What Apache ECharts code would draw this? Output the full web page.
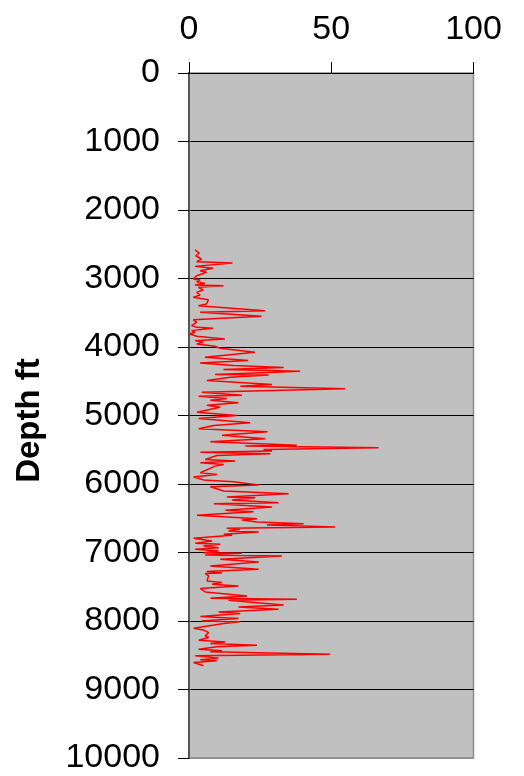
<!DOCTYPE html>
<html>
<head>
<meta charset="utf-8">
<script src="https://cdn.jsdelivr.net/npm/echarts@6/dist/echarts.min.js"></script>
<style>
  html, body { margin: 0; padding: 0; background: #ffffff; }
  #chart { width: 524px; height: 776px; }
</style>
</head>
<body>
<div id="chart"></div>
<script>
// Log readings: depth (ft) and measured value at that depth
const depths = [
  2580, 2629, 2668, 2716, 2755, 2774, 2823, 2852, 2886, 2910,
  2959, 3008, 3022, 3047, 3071, 3095, 3105, 3129, 3168, 3202,
  3241, 3275, 3290, 3309, 3372, 3397, 3470, 3494, 3552, 3601,
  3640, 3688, 3713, 3727, 3761, 3785, 3810, 3844, 3883, 3907,
  3931, 3956, 3990, 4020, 4077, 4150, 4198, 4232, 4271, 4300,
  4330, 4354, 4400, 4410, 4440, 4490, 4548, 4572, 4611, 4660,
  4704, 4718, 4752, 4777, 4815, 4849, 4878, 4951, 4999, 5044,
  5107, 5146, 5194, 5238, 5287, 5340, 5384, 5433, 5447, 5471,
  5496, 5520, 5535, 5559, 5583, 5642, 5666, 5690, 5715, 5739,
  5836, 5860, 5899, 5940, 5967, 6016, 6040, 6103, 6142, 6190,
  6200, 6234, 6273, 6288, 6336, 6385, 6404, 6458, 6492, 6506,
  6526, 6555, 6579, 6599, 6628, 6647, 6662, 6686, 6701, 6735,
  6749, 6793, 6832, 6866, 6880, 6905, 6929, 6953, 6978, 7002,
  7012, 7036, 7050, 7099, 7138, 7196, 7245, 7279, 7300, 7308,
  7342, 7415, 7439, 7464, 7488, 7527, 7575, 7634, 7668, 7682,
  7697, 7765, 7794, 7828, 7867, 7891, 7935, 7964, 8000, 8010,
  8037, 8105, 8130, 8169, 8217, 8241, 8280, 8305, 8329, 8353,
  8377, 8411, 8436, 8450, 8484, 8508, 8542, 8567, 8581, 8606,
  8654
];
const values = [
  2.1, 3.6, 2.4, 4.4, 2.7, 15.3, 2.1, 8.5, 3.9, 6.2,
  2.7, 1.5, 3.9, 2.7, 5.6, 2.1, 12.1, 3.3, 5.0, 2.7,
  3.9, 1.5, 2.1, 6.8, 6.2, 3.3, 26.7, 3.9, 25.5, 1.5,
  2.7, 0.9, 2.7, 8.5, 0.9, 2.1, 0.3, 2.7, 12.6, 2.1,
  5.0, 2.7, 9.1, 10.9, 23.2, 5.6, 20.8, 3.9, 15.6, 33.3,
  12.1, 39.1, 9.2, 28.0, 14.5, 6.3, 29.2, 18.0, 54.9, 4.5,
  18.6, 3.4, 13.3, 7.5, 17.4, 6.3, 11.0, 2.8, 16.8, 3.4,
  21.5, 8.7, 3.4, 27.6, 11.6, 26.8, 7.5, 37.9, 19.8, 66.6,
  26.2, 29.2, 4.0, 28.6, 9.8, 5.7, 16.3, 4.0, 12.2, 9.2,
  4.0, 9.8, 1.6, 5.1, 15.7, 24.5, 7.5, 12.2, 35.0, 13.3,
  23.3, 15.1, 31.5, 8.7, 29.2, 12.8, 22.7, 2.8, 18.0, 23.9,
  18.6, 23.9, 40.3, 27.4, 51.4, 13.3, 18.0, 13.9, 24.5, 12.2,
  15.1, 1.6, 8.1, 2.2, 11.0, 5.1, 10.4, 2.2, 10.4, 5.1,
  18.6, 5.7, 32.7, 11.0, 24.5, 7.5, 24.5, 6.3, 11.6, 5.7,
  6.9, 6.3, 11.6, 8.1, 17.4, 4.0, 5.7, 20.4, 7.5, 37.9,
  13.9, 33.3, 17.4, 31.5, 10.4, 18.0, 4.0, 17.4, 4.5, 18.0,
  12.2, 1.6, 5.1, 6.9, 5.7, 6.9, 3.4, 12.8, 7.5, 23.9,
  9.8, 3.4, 11.6, 7.5, 49.6, 2.2, 10.4, 4.0, 9.8, 1.6,
  5.1
];

// Axis settings
const valueMin = 0, valueMax = 100, valueStep = 50;
const depthMin = 0, depthMax = 10000, depthStep = 1000;
const depthAxisTitle = 'Depth ft';

const points = depths.map((d, i) => [values[i], d]);

// one colour per horizontal grid line; the last one sits on the plot border
const gridLineColors = [];
for (let d = depthMin; d <= depthMax; d += depthStep) {
  gridLineColors.push(d === depthMax ? '#8a8a8a' : '#000000');
}

const FONT = 'Liberation Sans, Arial, sans-serif';

const chart = echarts.init(document.getElementById('chart'), null, { renderer: 'canvas' });
chart.setOption({
  animation: false,
  backgroundColor: '#ffffff',
  textStyle: { fontFamily: FONT },
  grid: {
    left: 189, right: 50.5, top: 73, bottom: 18,
    show: true,
    backgroundColor: '#c0c0c0',
    borderColor: '#8a8a8a',
    borderWidth: 1.5
  },
  xAxis: {
    type: 'value',
    position: 'top',
    min: valueMin, max: valueMax, interval: valueStep,
    axisLine: { show: true, onZero: false, lineStyle: { color: '#000', width: 1 } },
    axisTick: { show: true, inside: false, length: 11, lineStyle: { color: '#000', width: 1 } },
    axisLabel: { color: '#000', fontSize: 34, margin: 26, fontFamily: FONT },
    splitLine: { show: false }
  },
  yAxis: {
    type: 'value',
    inverse: true,
    min: depthMin, max: depthMax, interval: depthStep,
    name: depthAxisTitle,
    nameLocation: 'middle',
    nameGap: 143,
    nameTextStyle: {
      color: '#000', fontSize: 33, fontWeight: 'bold', fontFamily: FONT,
      padding: [0, 10, 0, 0]
    },
    axisLine: { show: true, onZero: false, lineStyle: { color: '#555', width: 2 } },
    axisTick: { show: true, inside: false, length: 11, lineStyle: { color: '#000', width: 1 } },
    axisLabel: {
      color: '#000', fontSize: 34, margin: 29, fontFamily: FONT,
      formatter: (v) => String(v)
    },
    splitLine: { show: true, lineStyle: { color: gridLineColors, width: 1 } }
  },
  series: [{
    type: 'line',
    data: points,
    showSymbol: false,
    symbol: 'none',
    lineStyle: { color: '#ff0000', width: 1.5 },
    z: 3
  }]
});
</script>
</body>
</html>
